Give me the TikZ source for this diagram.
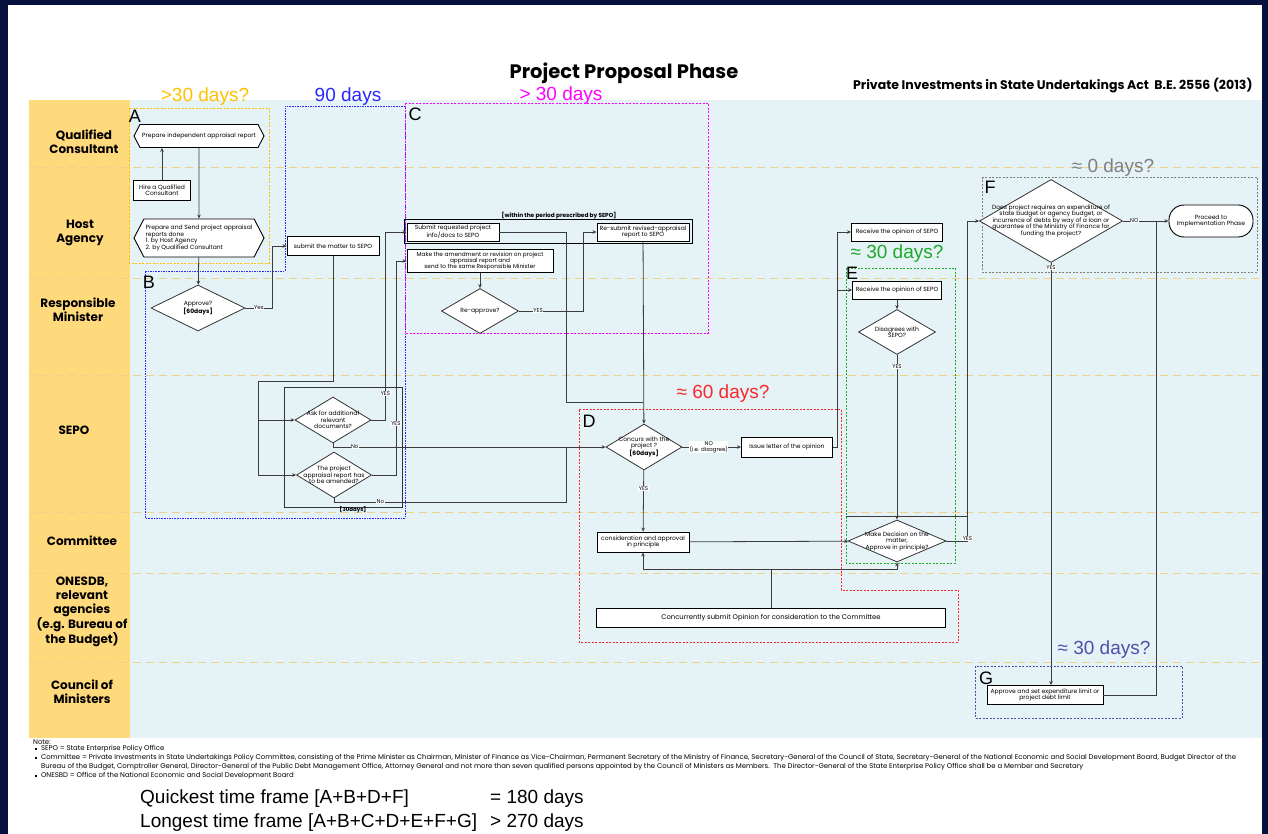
\documentclass[tikz,border=0pt]{standalone}
\usepackage{fontspec}
\setmainfont{Poppins}
\newfontfamily\arialfont{Liberation Sans}
\usetikzlibrary{arrows.meta,shapes.geometric,shapes.symbols}
\definecolor{frame}{RGB}{8,16,62}
\definecolor{lanebg}{RGB}{255,218,125}
\definecolor{flowbg}{RGB}{229,242,246}
\definecolor{lanesep}{RGB}{238,210,140}
\definecolor{wire}{RGB}{60,60,60}
\definecolor{tA}{RGB}{255,192,0}
\definecolor{tB}{RGB}{40,40,255}
\definecolor{tC}{RGB}{255,0,255}
\definecolor{tD}{RGB}{250,40,40}
\definecolor{tE}{RGB}{30,170,40}
\definecolor{tF}{RGB}{128,128,128}
\definecolor{tG}{RGB}{80,80,170}

\begin{document}
\begin{tikzpicture}[x=1pt,y=-1pt,
  lane/.style={font=\fontsize{12}{14}\selectfont\bfseries,align=center},
  box/.style={draw=black,line width=0.9pt,fill=white,inner sep=1pt,font=\fontsize{6}{6.5}\selectfont,align=center},
  hexbox/.style={box,shape=signal,signal to=west and east,signal pointer angle=125},
  dia/.style={draw=black!80,line width=0.8pt,fill=white,shape=diamond,inner sep=0pt},
  dtxt/.style={font=\fontsize{6}{6.5}\selectfont,align=center,inner sep=0pt},
  wire/.style={draw=wire,line width=0.8pt},
  arr/.style={wire,-{Stealth[length=4pt,width=3.5pt]}},
  lab/.style={fill=white,inner sep=0.5pt,font=\fontsize{5.5}{6}\selectfont,align=center},
  days/.style={font=\arialfont\fontsize{19}{19}\selectfont},
  tag/.style={font=\arialfont\fontsize{18}{18}\selectfont},
  zone/.style={line width=0.8pt,dash pattern=on 2pt off 1.5pt},
  note/.style={font=\fontsize{6.9}{7}\selectfont,anchor=west,inner sep=0pt},
  sum/.style={font=\arialfont\fontsize{19}{20}\selectfont,anchor=west,inner sep=0pt}
]
% frame and lanes
\fill[frame] (0,0) rectangle (1268,834);
\fill[white] (8,5) rectangle (1262,834);
\fill[lanebg] (29,100) rectangle (130,738);
\fill[flowbg] (130,100) rectangle (1262,738);
\foreach \y in {168,278,375,512,573,662}
  \draw[lanesep,line width=1pt,dash pattern=on 8pt off 5pt] (29,\y) -- (1262,\y);

\node[lane] (lqc) at (84,142) {Qualified\\Consultant};
\node[lane] (lha) at (80,233) {Host\\Agency};
\node[lane] (lrm) at (78,310) {Responsible\\Minister};
\node[lane] (lsepo) at (74,430) {SEPO};
\node[lane] (lcom) at (82,541) {Committee};
\node[lane] (lone) at (82,612) {ONESDB,\\relevant\\agencies\\(e.g. Bureau of\\the Budget)};
\node[lane] (lcm) at (82,692) {Council of\\Ministers};

\node[font=\fontsize{19.5}{20}\selectfont\bfseries] (title) at (624,73) {Project Proposal Phase};
\node[font=\fontsize{12.5}{13}\selectfont\bfseries,anchor=east] (act) at (1256,86) {Private Investments in State Undertakings Act\ \ B.E. 2556 (2013)};

% time zones
\draw[zone,tA] (129,108) rectangle (269,263);
\draw[tB,line width=0.8pt,dash pattern=on 1.6pt off 1pt] (145,271) -- (285,271) -- (285,106) -- (405,106) -- (405,518) -- (145,518) -- cycle;
\draw[zone,tC] (405,103) rectangle (708,333);
\draw[zone,tD] (579,409) -- (841,409) -- (841,590) -- (958,590) -- (958,642) -- (579,642) -- cycle;
\draw[zone,tE] (846,268) rectangle (955,563);
\draw[zone,tF] (982,177) rectangle (1257,272);
\draw[zone,tG] (975,666) rectangle (1182,718);

\node[days,tA] (dA) at (205,97) {>30 days?};
\node[days,tB] (dB) at (348,97) {90 days};
\node[days,tC] (dC) at (561,96) {> 30 days};
\node[days,tF] (dF) at (1113,168) {≈ 0 days?};
\node[days,tE] (dE) at (897,254) {≈ 30 days?};
\node[days,tD] (dD) at (723,394) {≈ 60 days?};
\node[days,tG] (dG) at (1104,650) {≈ 30 days?};

\node[tag] (zA) at (135,116) {A};
\node[tag] (zB) at (149,282) {B};
\node[tag] (zC) at (415,114) {C};
\node[tag] (zD) at (589,421) {D};
\node[tag] (zE) at (852,273) {E};
\node[tag] (zF) at (990,187) {F};
\node[tag] (zG) at (986,678) {G};

% A / B
\node[hexbox,minimum width=130,minimum height=23] (prepind) at (199,136) {Prepare independent appraisal report};
\node[box,minimum width=57,minimum height=20] (hire) at (162,190) {Hire a Qualified\\Consultant};
\node[hexbox,minimum width=130,minimum height=38,align=left] (prepsend) at (199,238) {Prepare and Send project appraisal\\reports done\\1. by Host Agency\\2. by Qualified Consultant};
\node[box,minimum width=92,minimum height=19] (tosepo) at (333,246) {submit the matter to SEPO};
\node[dia,minimum width=94,minimum height=46,label={[dtxt]center:{Approve?\\\textbf{[60days]}}}] (approve) at (198,308) {};
\node[draw=black!80,line width=0.9pt,minimum width=118,minimum height=120,inner sep=0pt] (sepogrp) at (343,447) {};
\node[dtxt,font=\fontsize{5.5}{6}\selectfont\bfseries] (d30) at (353,510) {[30days]};
\node[dia,minimum width=76,minimum height=46,label={[dtxt]center:{Ask for additional\\relevant\\documents?}}] (askdoc) at (333,420) {};
\node[dia,minimum width=75,minimum height=46,label={[dtxt]center:{The project\\appraisal report has\\to be amended?}}] (amend) at (334,475) {};

% C
\node[dtxt,font=\fontsize{5.8}{6}\selectfont\bfseries] (within) at (559,216) {[within the period prescribed by SEPO]};
\node[draw=black,line width=0.9pt,minimum width=288,minimum height=24,inner sep=0pt] (cgrp) at (548,231) {};
\node[box,minimum width=92,minimum height=18] (subreq) at (453,232) {Submit requested project\\info/docs to SEPO};
\node[box,minimum width=92,minimum height=18] (resub) at (643,232) {Re-submit revised-appraisal\\report to SEPO};
\node[box,minimum width=146,minimum height=23,font=\fontsize{5.8}{6.4}\selectfont] (amendsend) at (480,261) {Make the amendment or revision on project\\appraisal report and\\send to the same Responsible Minister};
\node[dia,minimum width=77,minimum height=45,label={[dtxt]center:{Re-approve?}}] (reapp) at (480,311) {};

% D / E
\node[dia,minimum width=76,minimum height=46,label={[dtxt]center:{Concurs with the\\project ?\\\textbf{[60days]}}}] (concur) at (644,447) {};
\node[box,minimum width=91,minimum height=20] (issue) at (787,447) {Issue letter of the opinion};
\node[box,minimum width=91,minimum height=18] (recv1) at (897,232) {Receive the opinion of SEPO};
\node[box,minimum width=89,minimum height=18] (recv2) at (897,290) {Receive the opinion of SEPO};
\node[dia,minimum width=77,minimum height=45,label={[dtxt]center:{Disagrees with\\SEPO?}}] (disagree) at (897,332) {};
\node[dia,minimum width=98,minimum height=42,label={[dtxt]center:{Make Decision on the\\matter,\\Approve in principle?}}] (decide) at (897,541) {};
\node[box,minimum width=92,minimum height=20] (consider) at (643,542) {consideration and approval\\in principle};
\node[box,minimum width=349,minimum height=19,font=\fontsize{6.8}{7}\selectfont] (concsub) at (771,618) {Concurrently submit Opinion for consideration to the Committee};

% F / G
\node[dia,minimum width=143,minimum height=83,label={[dtxt]center:{Does project requires an expenditure of\\state budget or agency budget, or\\incurrence of debts by way of a loan or\\guarantee of the Ministry of Finance for\\funding the project?}}] (fund) at (1051,221) {};
\node[box,rounded corners=15pt,minimum width=84,minimum height=32] (proceed) at (1211,221) {Proceed to\\Implementation Phase};
\node[box,minimum width=116,minimum height=19] (limit) at (1045,695) {Approve and set expenditure limit or\\project debt limit};

% junctions
\coordinate (jL) at (258,381);
\coordinate (jNo) at (566,502);
\coordinate (jR) at (566,402);
\coordinate (jC) at (643,402);
\coordinate (jV) at (837,290);
\coordinate (jY) at (967,516);
\coordinate (jS) at (846,516);
\coordinate (jB) at (771,569);
\coordinate (jP) at (1156,221);

% connectors
\draw[arr] (hire) -- (hire |- prepind.south);
\draw[arr] (prepind) -- (prepsend);
\draw[arr] (prepsend) -- (approve);
\draw[arr] (approve.east) -- node[lab]{Yes} ++(27,0) |- (tosepo.west);
\draw[wire] (tosepo) -- (tosepo |- jL) -- (jL);
\draw[arr] (jL) |- (amend.west);
\draw[arr] (jL |- askdoc) -- (askdoc.west);
\draw[arr] (askdoc.east) -- ++(14,0) |- node[lab,pos=0.07]{YES} (subreq.west);
\draw[arr] (amend.east) -- ++(24,0) |- node[lab,pos=0.12]{YES} (amendsend.west);
\draw[arr] (askdoc.south) |- node[lab,pos=0.54]{No} (concur.west);
\draw[wire] (amend.south) |- node[lab,pos=0.6]{No} (jNo) -- (jNo |- concur);
\draw[wire] (subreq.east) -| (jR) -- (jC);
\draw[arr] (resub) -- (concur);
\draw[arr] (amendsend) -- (reapp);
\draw[arr] (reapp.east) -- node[lab,pos=0.3]{YES} ++(64,0) |- (resub.west);
\draw[arr] (concur.east) -- node[lab,pos=0.45]{NO\\(i.e. disagree)} (issue.west);
\draw[arr] (issue.east) -- ++(4,0) |- (recv1.west);
\draw[arr] (jV) -- (recv2.west);
\draw[arr] (recv2) -- (disagree);
\draw[arr] (disagree) -- node[lab,pos=0.07]{YES} (decide);
\draw[arr] (concur) -- node[lab,pos=0.3]{YES} (consider);
\draw[arr] (consider) -- (decide);
\draw[arr] (decide.east) -- ++(21,0) node[lab,above=0pt]{YES} |- (fund.west);
\draw[wire] (jS) -- (jY);
\draw[wire] (concsub) -- (jB);
\draw[arr] (jB) -| (consider.south);
\draw[arr] (jB) -| (decide.south);
\draw[arr] (fund.east) -- node[lab,pos=0.25]{NO} (proceed.west);
\draw[arr] (fund.south) -- node[lab,pos=0.01]{YES} (fund.south |- limit.north);
\draw[wire] (limit.east) -| (jP);

% notes
\node[note] (nt0) at (33,742) {Note:};
\node[note] (nt1) at (35,749) {\rule[0.7pt]{1.8pt}{1.8pt}\hspace{4pt}SEPO = State Enterprise Policy Office};
\node[note] (nt2) at (35,758) {\rule[0.7pt]{1.8pt}{1.8pt}\hspace{4pt}Committee = Private Investments in State Undertakings Policy Committee, consisting of the Prime Minister as Chairman, Minister of Finance as Vice-Chairman, Permanent Secretary of the Ministry of Finance, Secretary-General of the Council of State, Secretary-General of the National Economic and Social Development Board, Budget Director of the};
\node[note] (nt3) at (41,767) {Bureau of the Budget, Comptroller General, Director-General of the Public Debt Management Office, Attorney General and not more than seven qualified persons appointed by the Council of Ministers as Members.\ \ The Director-General of the State Enterprise Policy Office shall be a Member and Secretary};
\node[note] (nt4) at (35,776) {\rule[0.7pt]{1.8pt}{1.8pt}\hspace{4pt}ONESBD = Office of the National Economic and Social Development Board};

\node[sum] (q1) at (140,799) {Quickest time frame [A+B+D+F]};
\node[sum] (q2) at (490,799) {= 180 days};
\node[sum] (s1) at (140,823) {Longest time frame [A+B+C+D+E+F+G]};
\node[sum] (s2) at (490,823) {> 270 days};
\end{tikzpicture}
\end{document}
